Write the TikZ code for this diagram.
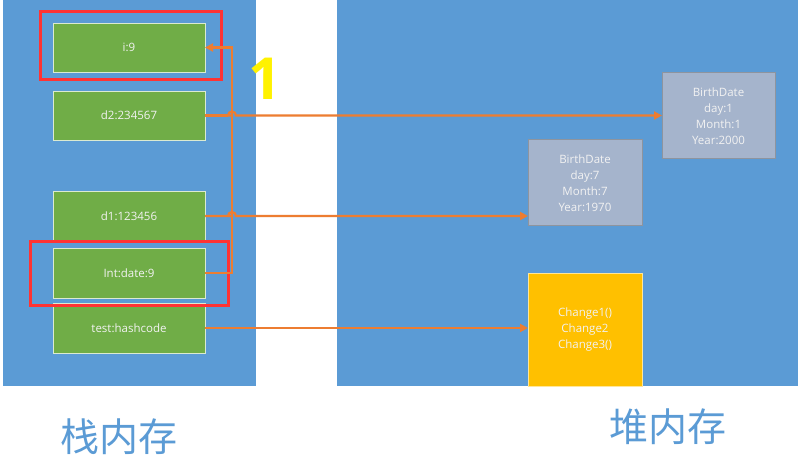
\documentclass[tikz,border=0pt]{standalone}
\usepackage{fontspec}
\setmainfont{Open Sans}
\newfontfamily\cjk{Noto Sans CJK SC}
\usetikzlibrary{arrows.meta}
\definecolor{panelblue}{HTML}{5B9BD5}
\definecolor{boxgreen}{HTML}{70AD47}
\definecolor{boxgray}{HTML}{A5B4CC}
\definecolor{boxyellow}{HTML}{FFC000}
\definecolor{lineorange}{HTML}{ED7D31}
\definecolor{markred}{HTML}{FF3333}
\definecolor{txtwhite}{HTML}{F2F2F2}
\tikzset{
  panel/.style={fill=panelblue, draw=none, anchor=north west, inner sep=0pt, outer sep=0pt},
  cell/.style={fill=boxgreen, draw=white!75!boxgreen, line width=0.8pt, anchor=north west, inner sep=0pt, outer sep=0pt,
    minimum width=152pt, text=txtwhite, font=\fontsize{11.5}{16}\selectfont},
  heapbox/.style={fill=boxgray, draw=gray!60!boxgray, line width=1pt, anchor=north west, inner sep=0pt, outer sep=0pt,
    text=txtwhite, align=center, font=\fontsize{11.5}{16}\selectfont},
  methodbox/.style={fill=boxyellow, draw=white!60!boxyellow, line width=0.8pt, anchor=north west, inner sep=0pt, outer sep=0pt,
    text=txtwhite, align=center, font=\fontsize{11.5}{16}\selectfont},
  redmark/.style={draw=markred, line width=3pt},
  ref/.style={draw=lineorange, line width=2.2pt, -{Triangle[length=8pt,width=8pt]}},
  refline/.style={draw=lineorange, line width=2.2pt},
  caption/.style={text=panelblue, font=\cjk\fontsize{39}{42}\selectfont}
}
\begin{document}
\begin{tikzpicture}[x=1pt,y=-1pt]
\useasboundingbox (0,0) rectangle (798,462);
\fill[white] (0,0) rectangle (798,462);
% panels
\node[panel, minimum width=253pt, minimum height=386pt] (stack) at (3,0) {};
\node[panel, minimum width=461pt, minimum height=386pt] (heap) at (337,0) {};
% stack cells
\node[cell, minimum height=49pt] (i9) at (53,23) {i:9};
\node[cell, minimum height=49pt] (d2) at (53,91) {d2:234567};
\node[cell, minimum height=50pt] (d1) at (53,191) {d1:123456};
\node[cell, minimum height=50pt] (test) at (53,303) {test:hashcode};
\node[cell, minimum height=50pt] (int) at (53,248) {Int:date:9};
% heap objects
\node[heapbox, minimum width=114pt, minimum height=86pt] (bd1) at (528,140) {BirthDate\\day:7\\Month:7\\Year:1970};
\node[heapbox, minimum width=113pt, minimum height=86pt] (bd2) at (662,73) {BirthDate\\day:1\\Month:1\\Year:2000};
\node[methodbox, minimum width=114pt, minimum height=113pt] (meth) at (528,273) {Change1()\\Change2\\Change3()};
% red marks
\draw[redmark] (40,12) rectangle (221,80);
\draw[redmark] (30,242) rectangle (228,306);
% number
\node[text=yellow, font=\bfseries\fontsize{58}{60}\selectfont, inner sep=0pt] (one) at (265,79) {1};
% connectors
\draw[ref] (int.east) -- ++(27,0) coordinate (turn) |- (i9.east);
\draw[ref] (d2.east) -- (d2.east -| turn) ++(-4,0) arc[start angle=180,end angle=0,radius=4pt] -- (d2.east -| bd2.west);
\draw[refline] (d2.east) -- ++(23,0);
\draw[ref] (d1.east) -- (d1.east -| turn) ++(-4,0) arc[start angle=180,end angle=0,radius=4pt] -- (d1.east -| bd1.west);
\draw[refline] (d1.east) -- ++(23,0);
\draw[ref] (test.east) -- (test.east -| meth.west);
% captions
\node[caption] (lstack) at (119,437) {栈内存};
\node[caption] (lheap) at (668,427) {堆内存};
\end{tikzpicture}
\end{document}
